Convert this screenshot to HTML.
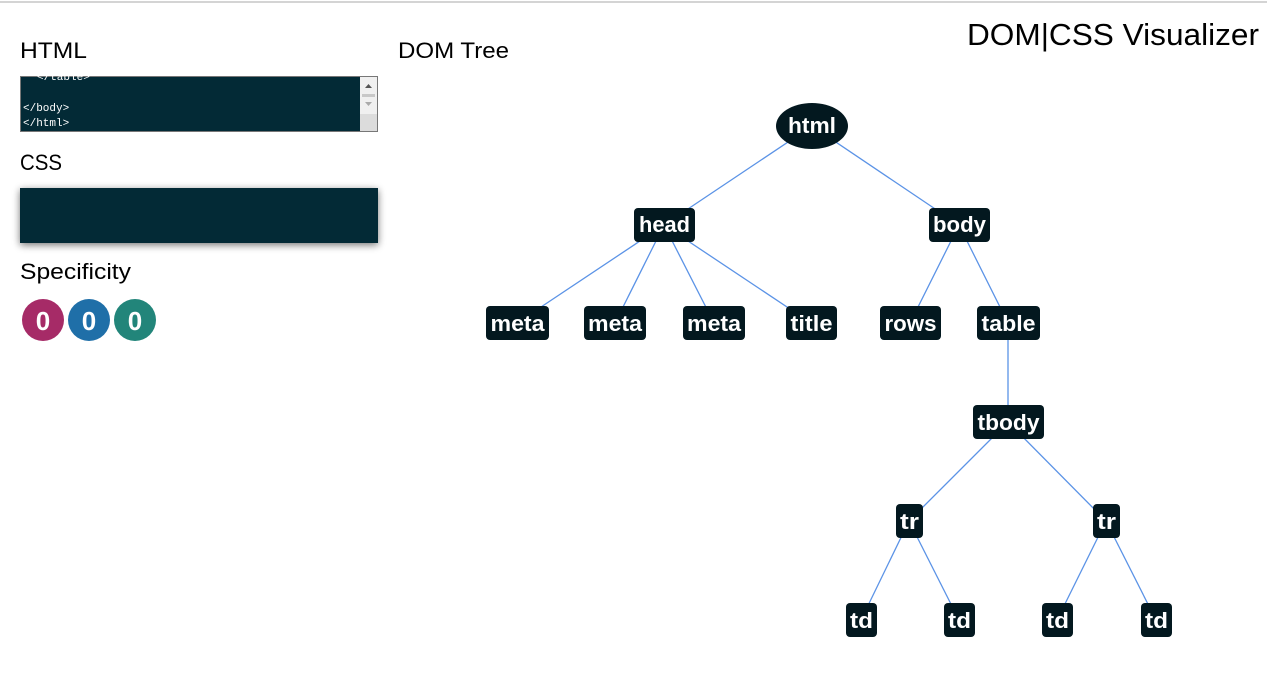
<!DOCTYPE html>
<html><head><meta charset="utf-8"><style>
html,body{margin:0;padding:0;background:#fff;}
svg{display:block;font-family:"Liberation Sans",sans-serif;}
</style></head><body>
<svg width="1267" height="689" viewBox="0 0 1267 689">
<defs><filter id="sh" x="-10%" y="-30%" width="120%" height="160%"><feGaussianBlur stdDeviation="4"/></filter></defs>
<line x1="0" y1="2" x2="1267" y2="2" stroke="#d4d4d4" stroke-width="2"/>
<text x="967" y="45" font-size="31" textLength="292" lengthAdjust="spacingAndGlyphs" fill="#000">DOM|CSS Visualizer</text>
<text x="20" y="58" font-size="22" textLength="67" lengthAdjust="spacingAndGlyphs">HTML</text>
<text x="398" y="58" font-size="22" textLength="111" lengthAdjust="spacingAndGlyphs">DOM Tree</text>
<text x="20" y="170" font-size="22" textLength="42" lengthAdjust="spacingAndGlyphs">CSS</text>
<text x="20" y="279" font-size="22" textLength="111" lengthAdjust="spacingAndGlyphs">Specificity</text>
<!-- textarea -->
<rect x="20.5" y="76.5" width="357" height="55" fill="#032a36" stroke="#777"/>
<rect x="360" y="77" width="17" height="54" fill="#f0f0f0"/>
<rect x="360" y="114" width="17" height="17" fill="#dcdcdc"/>
<path d="M365 88 L372 88 L368.5 84 Z" fill="#555"/>
<rect x="362" y="94" width="13" height="3" fill="#c8c8c8"/>
<path d="M365 102 L372 102 L368.5 106 Z" fill="#aaa"/>
<g font-family="'Liberation Mono',monospace" font-size="11" fill="#fff">
<text x="37" y="80">&lt;/table&gt;</text>
<text x="23" y="111">&lt;/body&gt;</text>
<text x="23" y="126">&lt;/html&gt;</text>
</g>
<!-- css box -->
<rect x="20" y="190" width="358" height="55" fill="#000" opacity="0.55" filter="url(#sh)"/>
<rect x="20" y="188" width="358" height="55" fill="#032a36"/>
<!-- specificity -->
<circle cx="43" cy="320" r="21" fill="#a62b67"/>
<circle cx="89" cy="320" r="21" fill="#1f6fa8"/>
<circle cx="135" cy="320" r="21" fill="#22857a"/>
<g font-size="26" font-weight="bold" fill="#fff" text-anchor="middle">
<text x="43" y="330">0</text><text x="89" y="330">0</text><text x="135" y="330">0</text>
</g>
<!-- edges -->
<g stroke="#5b93e6" stroke-width="1.3">
<line x1="812" y1="126" x2="664" y2="225"/>
<line x1="812" y1="126" x2="959" y2="225"/>
<line x1="664" y1="225" x2="517" y2="323"/>
<line x1="664" y1="225" x2="615" y2="323"/>
<line x1="664" y1="225" x2="714" y2="323"/>
<line x1="664" y1="225" x2="811" y2="323"/>
<line x1="959" y1="225" x2="910" y2="323"/>
<line x1="959" y1="225" x2="1008" y2="323"/>
<line x1="1008" y1="323" x2="1008" y2="422"/>
<line x1="1008" y1="422" x2="909" y2="521"/>
<line x1="1008" y1="422" x2="1106" y2="521"/>
<line x1="909" y1="521" x2="861" y2="620"/>
<line x1="909" y1="521" x2="959" y2="620"/>
<line x1="1106" y1="521" x2="1057" y2="620"/>
<line x1="1106" y1="521" x2="1156" y2="620"/>
</g>
<!-- nodes -->
<g fill="#03181f">
<ellipse cx="812" cy="126" rx="36" ry="23"/>
<rect x="634" y="208" width="61" height="34" rx="4"/>
<rect x="929" y="208" width="61" height="34" rx="4"/>
<rect x="486" y="306" width="63" height="34" rx="4"/>
<rect x="584" y="306" width="62" height="34" rx="4"/>
<rect x="683" y="306" width="62" height="34" rx="4"/>
<rect x="786" y="306" width="51" height="34" rx="4"/>
<rect x="880" y="306" width="61" height="34" rx="4"/>
<rect x="977" y="306" width="63" height="34" rx="4"/>
<rect x="973" y="405" width="71" height="34" rx="4"/>
<rect x="896" y="504" width="27" height="34" rx="4"/>
<rect x="1093" y="504" width="27" height="34" rx="4"/>
<rect x="846" y="603" width="31" height="34" rx="4"/>
<rect x="944" y="603" width="31" height="34" rx="4"/>
<rect x="1042" y="603" width="31" height="34" rx="4"/>
<rect x="1141" y="603" width="31" height="34" rx="4"/>
</g>
<g fill="#fff" font-size="22" font-weight="bold" text-anchor="middle" lengthAdjust="spacingAndGlyphs">
<text x="812" y="133" textLength="48" lengthAdjust="spacingAndGlyphs">html</text>
<text x="664.5" y="232" textLength="51" lengthAdjust="spacingAndGlyphs">head</text>
<text x="959.5" y="232" textLength="53" lengthAdjust="spacingAndGlyphs">body</text>
<text x="517.5" y="331" textLength="54" lengthAdjust="spacingAndGlyphs">meta</text>
<text x="615" y="331" textLength="54" lengthAdjust="spacingAndGlyphs">meta</text>
<text x="714" y="331" textLength="54" lengthAdjust="spacingAndGlyphs">meta</text>
<text x="811.5" y="331" textLength="42" lengthAdjust="spacingAndGlyphs">title</text>
<text x="910.5" y="331" textLength="52" lengthAdjust="spacingAndGlyphs">rows</text>
<text x="1008.5" y="331" textLength="54" lengthAdjust="spacingAndGlyphs">table</text>
<text x="1008.5" y="430" textLength="62" lengthAdjust="spacingAndGlyphs">tbody</text>
<text x="909.5" y="529" textLength="19" lengthAdjust="spacingAndGlyphs">tr</text>
<text x="1106.5" y="529" textLength="19" lengthAdjust="spacingAndGlyphs">tr</text>
<text x="861.5" y="628" textLength="23" lengthAdjust="spacingAndGlyphs">td</text>
<text x="959.5" y="628" textLength="23" lengthAdjust="spacingAndGlyphs">td</text>
<text x="1057.5" y="628" textLength="23" lengthAdjust="spacingAndGlyphs">td</text>
<text x="1156.5" y="628" textLength="23" lengthAdjust="spacingAndGlyphs">td</text>
</g>
</svg>
</body></html>
